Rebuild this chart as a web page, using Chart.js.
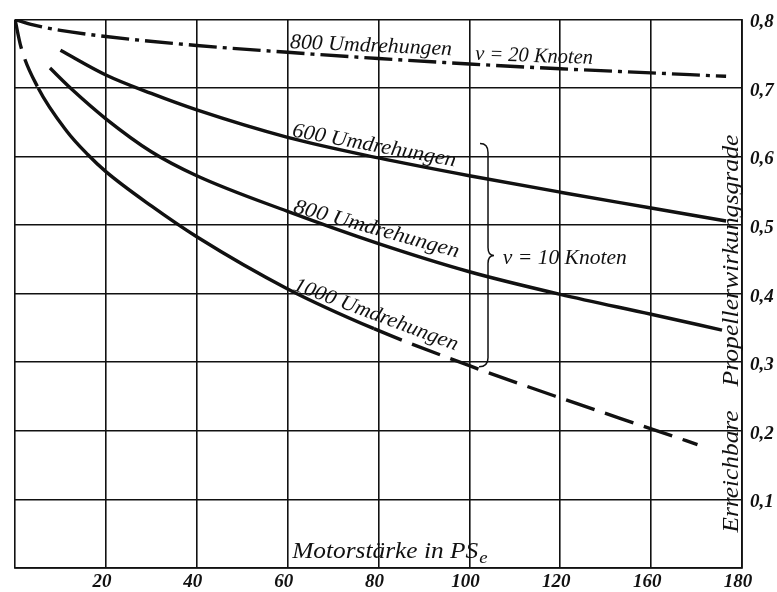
<!DOCTYPE html>
<html>
<head>
<meta charset="utf-8">
<script src="https://cdn.jsdelivr.net/npm/chart.js@4/dist/chart.umd.min.js"></script>
<style>
    html, body { margin: 0; padding: 0; background: #fff; }
    canvas { display: block; }
</style>
</head>
<body>
<canvas id="propChart" width="777" height="592"></canvas>
<script>
// tick labels as printed on the sheet
const powerLabels = ['', '20', '40', '60', '80', '100', '120', '160', '180'];
const efficiencyLabels = ['', '0,1', '0,2', '0,3', '0,4', '0,5', '0,6', '0,7', '0,8'];

// v = 20 Knoten, 800 Umdrehungen (dash-dot)
const power20kn = [0, 4, 10, 20, 40, 60, 80, 100, 120, 140, 156.5];
const eff20kn = [0.8, 0.792, 0.784, 0.775, 0.762, 0.752, 0.743, 0.735, 0.728, 0.722, 0.717];

// v = 10 Knoten
const power600 = [10, 20, 30, 40, 60, 80, 100, 120, 140, 156.5];
const eff600 = [0.755, 0.719, 0.692, 0.668, 0.628, 0.598, 0.572, 0.548, 0.525, 0.506];

const power800 = [7.7, 12.5, 20, 30, 40, 60, 80, 100, 120, 140, 155.6];
const eff800 = [0.729, 0.698, 0.655, 0.607, 0.572, 0.52, 0.473, 0.432, 0.399, 0.37, 0.347];

const power1000 = [0, 1.3, 5.1, 11.4, 16, 20, 30, 40, 60, 79, 100, 120, 140, 150.2];
const eff1000 = [0.8, 0.76, 0.7, 0.637, 0.603, 0.578, 0.528, 0.483, 0.407, 0.349, 0.295, 0.248, 0.203, 0.18];

// the 1000 curve is only drawn solid inside this range
const solidFrom = 5.1;
const solidTo = 79;

function toPoints(xs, ys) {
    return xs.map((x, i) => ({ x: x, y: ys[i] }));
}

const ink = '#111';
const serif = "'Liberation Serif', 'DejaVu Serif', serif";

// draw a string stretched to a given length, rotated about its baseline centre
function fitText(ctx, text, x, y, width, angle, font) {
    ctx.save();
    ctx.font = font;
    ctx.translate(x, y);
    ctx.rotate(angle * Math.PI / 180);
    const w = ctx.measureText(text).width;
    ctx.scale(width / w, 1);
    ctx.textAlign = 'center';
    ctx.textBaseline = 'alphabetic';
    ctx.fillText(text, 0, 0);
    ctx.restore();
}

// bottom-to-top text starting at (x, y), baseline on x
function fitVertical(ctx, text, x, y, length, font) {
    ctx.save();
    ctx.font = font;
    ctx.translate(x, y);
    ctx.rotate(-Math.PI / 2);
    const w = ctx.measureText(text).width;
    ctx.scale(length / w, 1);
    ctx.textAlign = 'left';
    ctx.textBaseline = 'alphabetic';
    ctx.fillText(text, 0, 0);
    ctx.restore();
}

const notes = {
    id: 'notes',
    afterDatasetsDraw(chart) {
        const ctx = chart.ctx;
        const xs = chart.scales.x;
        const ys = chart.scales.y;
        const px = v => xs.getPixelForValue(v);
        const py = v => ys.getPixelForValue(v);
        const label = "italic 21px " + serif;
        ctx.fillStyle = ink;

        // curve labels
        fitText(ctx, '800 Umdrehungen', px(78.3), py(0.753), 162, 2.5, label);
        fitText(ctx, 'v = 20 Knoten', px(114.2), py(0.738), 118, 2, label);
        fitText(ctx, '600 Umdrehungen', px(78.8), py(0.6075), 166, 10.5, label);
        fitText(ctx, '800 Umdrehungen', px(79.2), py(0.486), 171, 15.5, label);
        fitText(ctx, '1000 Umdrehungen', px(79.0), py(0.3615), 174, 20.5, label);
        fitText(ctx, 'v = 10 Knoten', px(121.0), py(0.4426), 124, 0, label);

        // brace grouping the 10-knot curves
        const bx = px(104.1);
        const top = py(0.619), bottom = py(0.2935), mid = py(0.4556);
        ctx.save();
        ctx.strokeStyle = ink;
        ctx.lineWidth = 1.5;
        ctx.beginPath();
        ctx.moveTo(bx - 8, top);
        ctx.quadraticCurveTo(bx, top, bx, top + 9);
        ctx.lineTo(bx, mid - 8);
        ctx.quadraticCurveTo(bx, mid, bx + 6, mid);
        ctx.quadraticCurveTo(bx, mid, bx, mid + 8);
        ctx.lineTo(bx, bottom - 9);
        ctx.quadraticCurveTo(bx, bottom, bx - 9, bottom);
        ctx.stroke();
        ctx.restore();

        // axis titles inside the frame
        ctx.save();
        ctx.font = "italic 23px " + serif;
        const main = 'Motorstärke in PS';
        const w = ctx.measureText(main).width;
        ctx.translate(px(61), py(0.0142));
        ctx.scale(186 / w, 1);
        ctx.textAlign = 'left';
        ctx.fillText(main, 0, 0);
        ctx.font = "italic 17px " + serif;
        ctx.fillText('e', w + 1, 5);
        ctx.restore();

        const yx = px(159.1);
        fitVertical(ctx, 'Erreichbare', yx, py(0.0518), 122, "italic 24px " + serif);
        fitVertical(ctx, 'Propellerwirkungsgrade', yx, py(0.2646), 252, "italic 24px " + serif);
    }
};

const curveStyle = {
    borderColor: ink,
    borderWidth: 3.4,
    pointRadius: 0,
    fill: false,
    cubicInterpolationMode: 'monotone',
};

const tickFont = { family: serif, size: 19, style: 'italic', weight: 'bold' };

new Chart(document.getElementById('propChart'), {
    type: 'line',
    data: {
        datasets: [
            Object.assign({ data: toPoints(power20kn, eff20kn), borderDash: [28, 6, 4, 6] }, curveStyle),
            Object.assign({ data: toPoints(power600, eff600) }, curveStyle),
            Object.assign({ data: toPoints(power800, eff800) }, curveStyle),
            Object.assign({
                data: toPoints(power1000, eff1000),
                segment: {
                    borderDash: c => (c.p1.parsed.x <= solidFrom || c.p0.parsed.x >= solidTo) ? [30, 11] : undefined,
                },
            }, curveStyle),
        ],
    },
    options: {
        responsive: false,
        animation: false,
        devicePixelRatio: 1,
        layout: { padding: { left: 15, top: 15, right: 0, bottom: 0 } },
        plugins: {
            legend: { display: false },
            tooltip: { enabled: false },
        },
        scales: {
            x: {
                type: 'linear',
                min: 0,
                max: 160,
                afterFit: s => { s.height = 24; },
                ticks: {
                    stepSize: 20,
                    autoSkip: false,
                    maxRotation: 0,
                    padding: 3,
                    labelOffset: -4,
                    color: ink,
                    font: tickFont,
                    callback: (v, i) => powerLabels[i],
                },
                grid: { color: ink, lineWidth: 1.6, drawTicks: false },
                border: { color: ink, width: 1.8 },
            },
            y: {
                position: 'right',
                min: 0,
                max: 0.8,
                afterFit: s => { s.width = 35; },
                ticks: {
                    stepSize: 0.1,
                    padding: 8,
                    labelOffset: 3,
                    color: ink,
                    font: tickFont,
                    callback: (v, i) => efficiencyLabels[i],
                },
                grid: { color: ink, lineWidth: 1.6, drawTicks: false },
                border: { color: ink, width: 1.8 },
            },
        },
    },
    plugins: [notes],
});
</script>
</body>
</html>
